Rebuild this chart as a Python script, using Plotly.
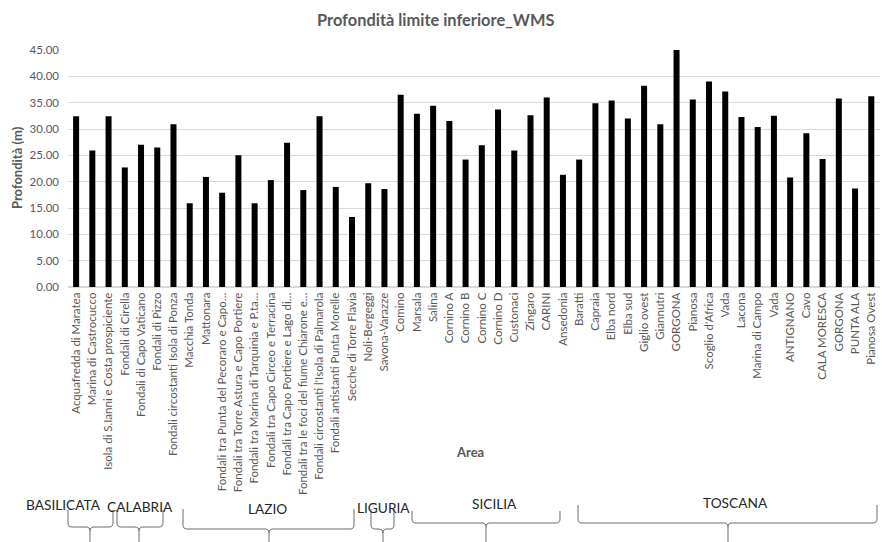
import plotly.graph_objects as go

# ---------------- data ----------------
areas = [
    "Acquafredda di Maratea", "Marina di Castrocucco", "Isola di S.Ianni e Costa prospiciente",
    "Fondali di Cirella", "Fondali di Capo Vaticano", "Fondali di Pizzo",
    "Fondali circostanti Isola di Ponza", "Macchia Tonda", "Mattonara",
    "Fondali tra Punta del Pecoraro e Capo…", "Fondali tra Torre Astura e Capo Portiere",
    "Fondali tra Marina di Tarquinia e P.ta…", "Fondali tra Capo Circeo e Terracina",
    "Fondali tra Capo Portiere e Lago di…", "Fondali tra le foci del fiume Chiarone e…",
    "Fondali circostanti l'Isola di Palmarola", "Fondali antistanti Punta Morelle",
    "Secche di Torre Flavia", "Noli-Bergeggi", "Savona-Varazze",
    "Comino", "Marsala", "Salina", "Cornino A", "Cornino B", "Cornino C", "Cornino D",
    "Custonaci", "Zingaro", "CARINI",
    "Ansedonia", "Baratti", "Capraia", "Elba nord", "Elba sud", "Giglio ovest", "Giannutri",
    "GORGONA", "Pianosa", "Scoglio d'Africa", "Vada", "Lacona", "Marina di Campo", "Vada",
    "ANTIGNANO", "Cavo", "CALA MORESCA", "GORGONA", "PUNTA ALA", "Pianosa Ovest", "ROSIGNANO",
]
depth = [
    32.4, 25.9, 32.4, 22.7, 27.0, 26.5, 30.9, 15.9, 20.9, 17.9, 25.0, 15.9, 20.3, 27.4,
    18.4, 32.4, 19.0, 13.3, 19.7, 18.6,
    36.5, 32.9, 34.4, 31.5, 24.2, 26.9, 33.7, 25.9, 32.6, 36.0,
    21.3, 24.2, 34.9, 35.4, 32.0, 38.2, 30.9, 45.0, 35.6, 39.0, 37.1, 32.3, 30.4, 32.5,
    20.8, 29.2, 24.3, 35.8, 18.7, 36.2, 25.6,
]
y_ticks = [0, 5, 10, 15, 20, 25, 30, 35, 40, 45]

regions = ["BASILICATA", "CALABRIA", "LAZIO", "LIGURIA", "SICILIA", "TOSCANA"]

# ---------------- layout helpers ----------------
OFF = 8                      # page body margin of the html page
PL, PR, PT, PB = 68, 905, 50, 287   # plot area in screen pixels (right part runs past the window)
W, H = PR - OFF, 542 - OFF
STEP = 820 / 50.53           # pixels per category, as in the picture
X_RANGE = [-0.5, -0.5 + (PR - PL) / STEP]
FONT = "Lato, 'Open Sans', sans-serif"
GRAY = "#595959"

def px_x(x):
    return (x - PL) / (PR - PL)

def px_y(y):
    return (PB - y) / (PB - PT)

x_idx = list(range(len(areas)))

fig = go.Figure(go.Bar(
    x=x_idx, y=depth, marker=dict(color="black", line=dict(width=0)),
    width=0.37, hoverinfo="x+y",
))

# region braces (screen-pixel geometry): x0, x1, xc, ytop, ybot, label x, label y
braces = [
    (68, 113, 90, 510, 527, 63, 504),
    (117, 163, 139, 510, 527, 140, 506),
    (183, 354, 269, 509, 529, 267, 508),
    (371, 394, 383, 509, 529, 383, 507),
    (412, 560, 486, 511, 523, 494, 503),
    (578, 877, 728, 505, 523, 735, 502),
]
shapes = []
annotations = []
for name, (x0, x1, xc, yt, yb, lx, ly) in zip(regions, braces):
    r = 4
    pts = lambda x, y: f"{px_x(x):.5f},{px_y(y):.5f}"
    path = (
        f"M {pts(x0, yt)} L {pts(x0, yb - r)} Q {pts(x0, yb)} {pts(x0 + r, yb)} "
        f"L {pts(xc - r, yb)} Q {pts(xc, yb)} {pts(xc, yb + r)} L {pts(xc, 545)} "
        f"M {pts(xc, yb + r)} Q {pts(xc, yb)} {pts(xc + r, yb)} "
        f"L {pts(x1 - r, yb)} Q {pts(x1, yb)} {pts(x1, yb - r)} L {pts(x1, yt)}"
    )
    shapes.append(dict(type="path", path=path, xref="paper", yref="paper",
                       line=dict(color="#6b6b6b", width=1)))
    annotations.append(dict(text=name, x=px_x(lx), y=px_y(ly), xref="paper", yref="paper",
                            showarrow=False, xanchor="center", yanchor="middle",
                            font=dict(family=FONT, size=13.7, color="#262626")))

annotations += [
    dict(text="<b>Profondità limite inferiore_WMS</b>", x=px_x(436), y=px_y(20),
         xref="paper", yref="paper", showarrow=False, xanchor="center", yanchor="middle",
         font=dict(family=FONT, size=16.4, color=GRAY)),
    dict(text="<b>Profondità (m)</b>", x=px_x(17), y=px_y(168), textangle=-90,
         xref="paper", yref="paper", showarrow=False, xanchor="center", yanchor="middle",
         font=dict(family=FONT, size=13, color=GRAY)),
    dict(text="<b>Area</b>", x=px_x(470), y=px_y(452),
         xref="paper", yref="paper", showarrow=False, xanchor="center", yanchor="middle",
         font=dict(family=FONT, size=13, color=GRAY)),
]

fig.update_layout(
    width=W, height=H, autosize=False,
    margin=dict(l=PL - OFF, r=0, t=PT - OFF, b=(542 - PB), pad=0),
    paper_bgcolor="white", plot_bgcolor="white",
    showlegend=False,
    font=dict(family=FONT, color=GRAY),
    shapes=shapes, annotations=annotations,
    xaxis=dict(
        range=X_RANGE, tickmode="array", tickvals=x_idx, ticktext=areas,
        tickangle=-90, tickfont=dict(family=FONT, size=11.5, color=GRAY),
        showgrid=False, showline=True, linecolor="#d9d9d9", linewidth=1,
        ticks="", zeroline=False, fixedrange=True,
    ),
    yaxis=dict(
        range=[0, 45], tickmode="array", tickvals=y_ticks, tickformat=".2f",
        tickfont=dict(family=FONT, size=11.5, color=GRAY),
        showgrid=True, gridcolor="#d9d9d9", gridwidth=1,
        zeroline=True, zerolinecolor="#d9d9d9", showline=False, ticks="",
        ticklabelstandoff=8, fixedrange=True,
    ),
)

fig.write_html("out.html")
